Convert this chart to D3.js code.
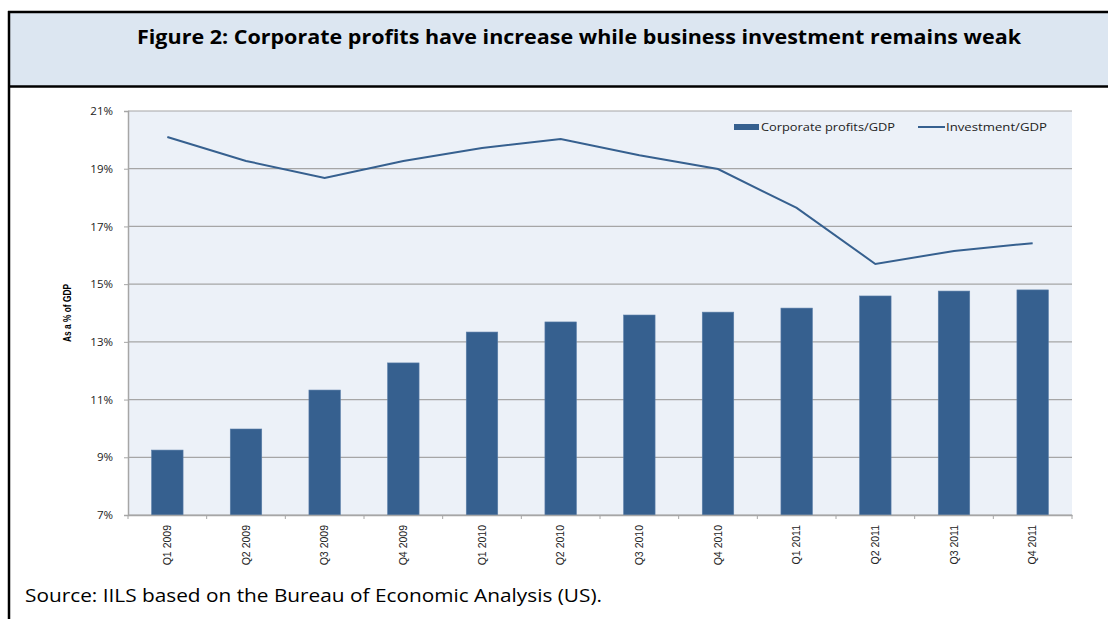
<!DOCTYPE html>
<html><head><meta charset="utf-8">
<script src="https://cdn.jsdelivr.net/npm/d3@7"></script>
<style>body{margin:0;background:#fff}svg{display:block}</style>
</head><body>
<script>
const categories = ["Q1 2009","Q2 2009","Q3 2009","Q4 2009","Q1 2010","Q2 2010","Q3 2010","Q4 2010","Q1 2011","Q2 2011","Q3 2011","Q4 2011"];
const profits = [9.25, 9.98, 11.33, 12.27, 13.34, 13.69, 13.93, 14.03, 14.17, 14.59, 14.76, 14.80];
const investment = [20.10, 19.27, 18.68, 19.27, 19.72, 20.03, 19.47, 18.99, 17.64, 15.70, 16.15, 16.42];
const yTicks = [7, 9, 11, 13, 15, 17, 19, 21];
const title = "Figure 2: Corporate profits have increase while business investment remains weak";
const source = "Source: IILS based on the Bureau of Economic Analysis (US).";

const W = 1108, H = 619;
const svg = d3.select("body").append("svg").attr("width", W).attr("height", H);

// title band
svg.append("rect").attr("x", 9).attr("y", 12).attr("width", W).attr("height", 74).attr("fill", "#dce6f1");
svg.append("line").attr("x1", 8).attr("x2", W).attr("y1", 12).attr("y2", 12).attr("stroke", "#000").attr("stroke-width", 2.5);
svg.append("line").attr("x1", 8).attr("x2", W).attr("y1", 86.5).attr("y2", 86.5).attr("stroke", "#000").attr("stroke-width", 2.5);
svg.append("line").attr("x1", 9).attr("x2", 9).attr("y1", 11).attr("y2", H).attr("stroke", "#000").attr("stroke-width", 2.5);
svg.append("text").attr("x", 137).attr("y", 44).attr("font-family", "'Open Sans', sans-serif").attr("font-weight", "bold")
  .attr("font-size", 20).attr("textLength", 884).attr("lengthAdjust", "spacingAndGlyphs").attr("fill", "#000").text(title);

const m = {l: 128, r: 1072, t: 111, b: 515};
const x = d3.scaleBand().domain(categories).range([m.l, m.r]).paddingInner(0.6).paddingOuter(0.3);
const xb = d3.scaleBand().domain(categories).range([m.l, m.r]);
const y = d3.scaleLinear().domain([7, 21]).range([m.b, m.t]);

svg.append("rect").attr("x", m.l).attr("y", m.t).attr("width", m.r - m.l).attr("height", m.b - m.t).attr("fill", "#ecf1f8");

// gridlines
svg.append("g").selectAll("line").data(yTicks).join("line")
  .attr("x1", m.l).attr("x2", m.r).attr("y1", d => y(d)).attr("y2", d => y(d))
  .attr("stroke", "#a6a6a6").attr("stroke-width", 1.2);

// y axis
const ya = svg.append("g").attr("transform", `translate(${m.l},0)`)
  .call(d3.axisLeft(y).tickValues(yTicks).tickFormat(d => d + "%").tickSize(4).tickPadding(11));
ya.select(".domain").attr("stroke", "#a6a6a6").attr("stroke-width", 1.5);
ya.selectAll(".tick line").attr("stroke", "#a6a6a6");
ya.selectAll("text").attr("font-family", "'Open Sans', sans-serif").attr("font-size", 11.5).attr("fill", "#222");

// bars
svg.append("g").selectAll("rect").data(profits).join("rect")
  .attr("x", (d, i) => x(categories[i])).attr("width", x.bandwidth())
  .attr("y", d => y(d)).attr("height", d => m.b - y(d))
  .attr("fill", "#36608f").attr("stroke", "#5a7ea8").attr("stroke-width", 0.6);

// x axis
const xa = svg.append("g").attr("transform", `translate(0,${m.b})`)
  .call(d3.axisBottom(xb).tickSize(0).tickPadding(0));
xa.select(".domain").attr("stroke", "#a6a6a6").attr("stroke-width", 1.5);
xa.selectAll(".tick text").attr("transform", "translate(0,10) rotate(-90)")
  .attr("text-anchor", "end").attr("dy", "0.35em").attr("dx", 0).attr("y", 0)
  .attr("font-family", "'Liberation Sans Narrow', sans-serif").attr("font-size", 10.5).attr("fill", "#222");
svg.append("g").selectAll("line").data(categories.concat(["_end"])).join("line")
  .attr("x1", (d, i) => m.l + i * xb.bandwidth()).attr("x2", (d, i) => m.l + i * xb.bandwidth())
  .attr("y1", m.b).attr("y2", m.b + 4).attr("stroke", "#a6a6a6").attr("stroke-width", 1);

// line
const line = d3.line().x((d, i) => xb(categories[i]) + xb.bandwidth() / 2).y(d => y(d));
svg.append("path").datum(investment).attr("d", line).attr("fill", "none")
  .attr("stroke", "#36608f").attr("stroke-width", 2);

// legend
svg.append("rect").attr("x", 734).attr("y", 124).attr("width", 25).attr("height", 6).attr("fill", "#36608f");
svg.append("text").attr("x", 761).attr("y", 131).attr("font-family", "'Open Sans', sans-serif").attr("font-size", 11.5)
  .attr("textLength", 134).attr("lengthAdjust", "spacingAndGlyphs").attr("fill", "#222").text("Corporate profits/GDP");
svg.append("line").attr("x1", 918).attr("x2", 945).attr("y1", 127).attr("y2", 127).attr("stroke", "#36608f").attr("stroke-width", 2);
svg.append("text").attr("x", 946).attr("y", 131).attr("font-family", "'Open Sans', sans-serif").attr("font-size", 11.5)
  .attr("textLength", 101).attr("lengthAdjust", "spacingAndGlyphs").attr("fill", "#222").text("Investment/GDP");

// y axis label
svg.append("text").attr("transform", "translate(71,313) rotate(-90)").attr("text-anchor", "middle")
  .attr("font-family", "'Liberation Sans Narrow', sans-serif").attr("font-weight", "bold").attr("font-size", 11)
  .attr("textLength", 58).attr("lengthAdjust", "spacingAndGlyphs").attr("fill", "#000").text("As a % of GDP");

// source
svg.append("text").attr("x", 25).attr("y", 602).attr("font-family", "'Open Sans', sans-serif").attr("font-size", 18)
  .attr("textLength", 577).attr("lengthAdjust", "spacingAndGlyphs").attr("fill", "#000").text(source);
</script>
</body></html>
